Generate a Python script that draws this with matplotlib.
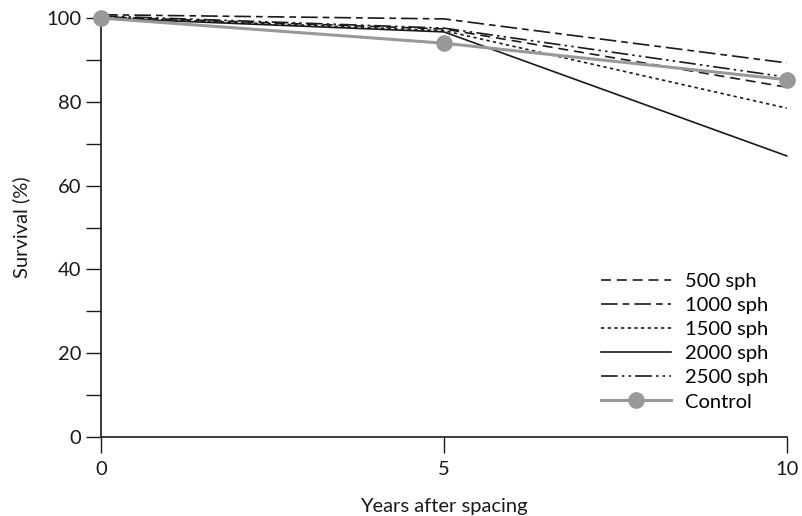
import matplotlib
matplotlib.use("Agg")
import matplotlib.pyplot as plt
from matplotlib.ticker import MultipleLocator

plt.rcParams['font.family'] = ['Lato', 'DejaVu Sans']

years = [0, 5, 10]
series_names = ["500 sph", "1000 sph", "1500 sph", "2000 sph", "2500 sph", "Control"]
s500 = [100.3, 97.4, 83.5]
s1000 = [100.8, 99.8, 89.3]
s1500 = [100.2, 97.0, 78.5]
s2000 = [100.0, 96.7, 67.1]
s2500 = [100.5, 97.6, 85.9]
control = [100.0, 94.0, 85.3]

styles = [
    dict(color="#1a1a1a", lw=1.2, ls=(0, (6, 3.5))),
    dict(color="#1a1a1a", lw=1.2, ls=(0, (10, 3, 4, 3))),
    dict(color="#1a1a1a", lw=1.2, ls=(0, (2, 2))),
    dict(color="#1a1a1a", lw=1.2, ls="-"),
    dict(color="#1a1a1a", lw=1.2, ls=(0, (10, 2.5, 1.5, 2.5, 1.5, 2.5))),
]

fig = plt.figure(figsize=(8.02, 5.16), dpi=100)
ax = fig.add_axes([0.126, 0.153, 0.855, 0.812])

for name, vals, st in zip(series_names[:5], [s500, s1000, s1500, s2000, s2500], styles):
    ax.plot(years, vals, label=name, clip_on=False, **st)
ax.plot(years, control, label="Control", color="#999999", lw=2.2,
        marker="o", ms=11, clip_on=False, zorder=5)

ax.set_xlim(0, 10)
ax.set_ylim(0, 100)
ax.set_xticks([0, 5, 10])
ax.yaxis.set_major_locator(MultipleLocator(20))
ax.yaxis.set_minor_locator(MultipleLocator(10))
for s in ("top", "right"):
    ax.spines[s].set_visible(False)
for s in ("left", "bottom"):
    ax.spines[s].set_linewidth(1.2)
    ax.spines[s].set_color("#1a1a1a")
ax.tick_params(axis="y", which="both", length=11, width=1.0, color="#1a1a1a",
               labelsize=14.5, pad=3, labelcolor="#1a1a1a")
ax.tick_params(axis="x", length=11.5, width=1.0, color="#1a1a1a",
               labelsize=14.5, pad=6, labelcolor="#1a1a1a")
ax.set_xlabel("Years after spacing", fontsize=14.5, labelpad=14, color="#1a1a1a")
ax.set_ylabel("Survival (%)", fontsize=14.5, labelpad=12, color="#1a1a1a")

leg = ax.legend(loc="lower right", bbox_to_anchor=(1.0, 0.02), frameon=False,
                fontsize=14.5, handlelength=3.5, labelspacing=0.35,
                handletextpad=0.7)

fig.savefig("out.png", dpi=100)
